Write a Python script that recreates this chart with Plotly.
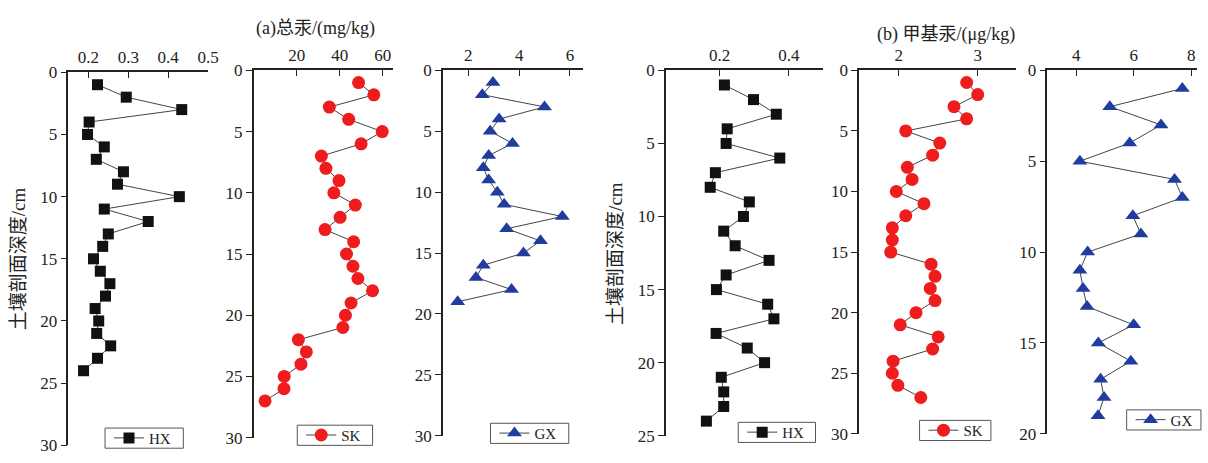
import plotly.graph_objects as go

W, H = 1208, 463

# ---------------- data ----------------
depth_a_hx = [1, 2, 3, 4, 5, 6, 7, 8, 9, 10, 11, 12, 13, 14, 15, 16, 17, 18, 19, 20, 21, 22, 23, 24]
thg_hx = [0.223, 0.295, 0.434, 0.202, 0.198, 0.240, 0.220, 0.288, 0.273, 0.428, 0.240, 0.350,
          0.250, 0.236, 0.213, 0.230, 0.254, 0.243, 0.217, 0.226, 0.221, 0.256, 0.223, 0.188]

depth_a_sk = [1, 2, 3, 4, 5, 6, 7, 8, 9, 10, 11, 12, 13, 14, 15, 16, 17, 18, 19, 20, 21, 22, 23, 24, 25, 26, 27]
thg_sk = [48.8, 55.9, 35.2, 44.2, 59.8, 50.0, 31.5, 33.6, 39.7, 37.3, 47.3, 40.2, 33.2, 46.5,
          43.2, 46.2, 48.5, 55.3, 45.3, 42.7, 41.5, 20.8, 24.5, 22.0, 14.2, 14.1, 5.3]

depth_a_gx = [1, 2, 3, 4, 5, 6, 7, 8, 9, 10, 11, 12, 13, 14, 15, 16, 17, 18, 19]
thg_gx = [2.97, 2.55, 5.00, 3.21, 2.86, 3.74, 2.80, 2.59, 2.80, 3.14, 3.41, 5.70, 3.51, 4.84,
          4.17, 2.59, 2.30, 3.70, 1.58]

depth_b_hx = [1, 2, 3, 4, 5, 6, 7, 8, 9, 10, 11, 12, 13, 14, 15, 16, 17, 18, 19, 20, 21, 22, 23, 24]
mehg_hx = [0.214, 0.298, 0.364, 0.222, 0.219, 0.374, 0.188, 0.173, 0.286, 0.269, 0.212, 0.245,
           0.343, 0.219, 0.191, 0.339, 0.357, 0.190, 0.280, 0.330, 0.205, 0.212, 0.212, 0.162]

depth_b_sk = [1, 2, 3, 4, 5, 6, 7, 8, 9, 10, 11, 12, 13, 14, 15, 16, 17, 18, 19, 20, 21, 22, 23, 24, 25, 26, 27]
mehg_sk = [2.86, 3.00, 2.70, 2.86, 2.09, 2.52, 2.43, 2.11, 2.17, 1.97, 2.32, 2.09, 1.92, 1.92,
           1.90, 2.41, 2.46, 2.40, 2.46, 2.22, 2.02, 2.50, 2.43, 1.93, 1.92, 1.99, 2.28]

depth_b_gx = [1, 2, 3, 4, 5, 6, 7, 8, 9, 10, 11, 12, 13, 14, 15, 16, 17, 18, 19]
mehg_gx = [7.69, 5.17, 6.95, 5.86, 4.13, 7.42, 7.69, 5.97, 6.25, 4.40, 4.13, 4.24, 4.38, 6.00,
           4.77, 5.90, 4.85, 4.97, 4.76]

title_a = "(a)总汞/(mg/kg)"
title_b = "(b) 甲基汞/(μg/kg)"
ytitle = "土壤剖面深度/cm"

# ---------------- styles / layout ----------------
FONT = "'Liberation Serif', 'Times New Roman', 'Noto Sans CJK SC', serif"
TXT = "#222222"

styles = {
    "HX": dict(symbol="square", color="#111111", size=11),
    "SK": dict(symbol="circle", color="#ee1c1c", size=13),
    "GX": dict(symbol="triangle-up", color="#1f3c9e", size=13),
}

# panel: (x_data, y_data, name, px_left, px_right, py_top, py_bottom, xrange, xticks, ymax, legend box l,t,r,b)
panels = [
    (thg_hx, depth_a_hx, "HX", 69, 210, 66, 455, [0.15, 0.5], [0.2, 0.3, 0.4, 0.5], 30, (106, 437, 185, 458)),
    (thg_sk, depth_a_sk, "SK", 256, 397, 64, 447, [0, 65], [20, 40, 60], 30, (300, 434, 376, 455)),
    (thg_gx, depth_a_gx, "GX", 447, 588, 64, 445, [1.0, 6.5], [2, 4, 6], 30, (495, 432, 574, 453)),
    (mehg_hx, depth_b_hx, "HX", 672, 831, 64, 445, [0.045, 0.5], [0.2, 0.4], 25, (745, 431, 823, 452)),
    (mehg_sk, depth_b_sk, "SK", 867, 1025, 64, 443, [1.5, 3.48], [2, 3], 30, (928, 429, 1000, 450)),
    (mehg_gx, depth_b_gx, "GX", 1057, 1208, 64, 443, [3.0, 8.2], [4, 6, 8], 20, (1137, 418, 1212, 439)),
]

fig = go.Figure()
layout = dict(
    width=W, height=H,
    margin=dict(l=0, r=0, t=0, b=0),
    paper_bgcolor="white", plot_bgcolor="white",
    font=dict(family=FONT, size=16, color=TXT),
    showlegend=True,
)
shapes = []

for i, (xv, yv, name, pl, pr, pt, pb, xr, xt, ymax, (bl, bt, br, bb)) in enumerate(panels):
    k = "" if i == 0 else str(i + 1)
    st = styles[name]
    leg = "legend" if i == 0 else "legend" + str(i + 1)
    fig.add_trace(go.Scatter(
        x=xv, y=yv, name=name, mode="lines+markers",
        xaxis="x" + k, yaxis="y" + k, legend=leg,
        line=dict(color="#444444", width=1),
        marker=dict(symbol=st["symbol"], color=st["color"], size=st["size"],
                    line=dict(width=0)),
        cliponaxis=False,
    ))
    layout["xaxis" + k] = dict(
        domain=[pl / W, pr / W], anchor="y" + k, side="top",
        range=xr, tickvals=xt, ticks="inside", ticklen=6, tickwidth=1.2,
        tickcolor="#222", showline=True, linecolor="#222", linewidth=1.5,
        showgrid=False, zeroline=False, tickfont=dict(size=17, family=FONT, color=TXT),
        ticklabelstandoff=1,
    )
    layout["yaxis" + k] = dict(
        domain=[1 - pb / H, 1 - pt / H], anchor="x" + k,
        range=[ymax, 0], dtick=5, ticks="outside", ticklen=6, tickwidth=1.2,
        tickcolor="#222", showline=True, linecolor="#222", linewidth=1.5,
        showgrid=False, zeroline=False, tickfont=dict(size=17, family=FONT, color=TXT),
    )
    layout[leg] = dict(
        x=(bl + 4) / W, y=1 - ((bt + bb) / 2) / H, xanchor="left", yanchor="middle",
        borderwidth=0, bgcolor="rgba(0,0,0,0)",
        font=dict(size=15, family=FONT, color=TXT),
        itemwidth=30, tracegroupgap=0,
    )
    shapes.append(dict(type="rect", xref="paper", yref="paper",
                       x0=bl / W, x1=br / W, y0=1 - bb / H, y1=1 - bt / H,
                       line=dict(color="#555555", width=1), fillcolor="rgba(0,0,0,0)",
                       layer="below"))

layout["shapes"] = shapes
fig.update_layout(**layout)

ann_font = dict(family=FONT, size=18, color=TXT)
fig.add_annotation(text=title_a, x=318 / W, y=1 - 20 / H, xref="paper", yref="paper",
                   showarrow=False, font=ann_font, xanchor="center", yanchor="middle")
fig.add_annotation(text=title_b, x=955 / W, y=1 - 27 / H, xref="paper", yref="paper",
                   showarrow=False, font=ann_font, xanchor="center", yanchor="middle")
fig.add_annotation(text=ytitle, x=19 / W, y=1 - 260 / H, xref="paper", yref="paper",
                   showarrow=False, textangle=-90, font=dict(family=FONT, size=19, color=TXT),
                   xanchor="center", yanchor="middle")
fig.add_annotation(text=ytitle, x=621 / W, y=1 - 255 / H, xref="paper", yref="paper",
                   showarrow=False, textangle=-90, font=dict(family=FONT, size=19, color=TXT),
                   xanchor="center", yanchor="middle")

fig.write_html("out.html")
